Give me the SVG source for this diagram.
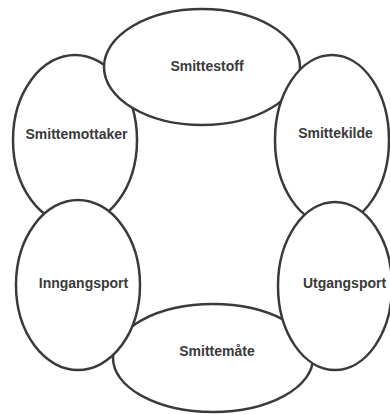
<svg xmlns="http://www.w3.org/2000/svg" width="390" height="414" viewBox="0 0 390 414">
<style>
.e{fill:#fff;stroke:#3a3a3a;stroke-width:2.5}
.t{font-family:"Liberation Sans",Arial,sans-serif;font-weight:bold;font-size:14px;fill:#3a3a3a;text-anchor:middle}
</style>
<rect width="390" height="414" fill="#fff"/>
<g id="smittemottaker"><ellipse class="e" cx="75" cy="140" rx="62" ry="85"/><text class="t" x="76.5" y="139">Smittemottaker</text></g>
<g id="smittemate"><ellipse class="e" cx="213" cy="358" rx="100" ry="54"/><text class="t" x="217" y="356">Smittemåte</text></g>
<g id="smittestoff"><ellipse class="e" cx="202" cy="67" rx="98" ry="58"/><text class="t" x="207" y="71">Smittestoff</text></g>
<g id="smittekilde"><ellipse class="e" cx="332" cy="140" rx="57" ry="85"/><text class="t" x="335.5" y="138">Smittekilde</text></g>
<g id="utgangsport"><ellipse class="e" cx="335" cy="286" rx="57" ry="84"/><text class="t" x="344.5" y="288">Utgangsport</text></g>
<g id="inngangsport"><ellipse class="e" cx="78" cy="285" rx="62" ry="85"/><text class="t" x="83.5" y="288">Inngangsport</text></g>
<g id="connectors"/>
</svg>
